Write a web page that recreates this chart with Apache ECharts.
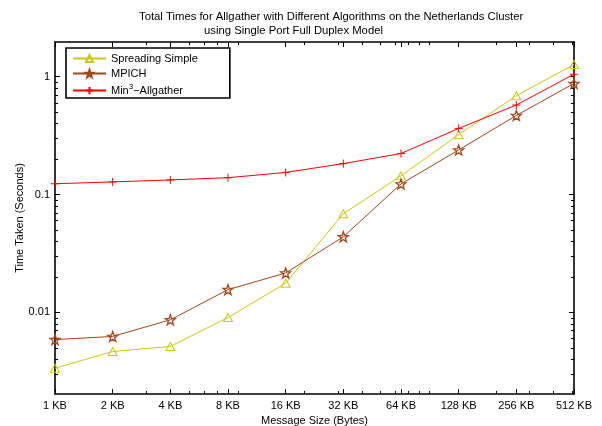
<!DOCTYPE html>
<html>
<head>
<meta charset="utf-8">
<script src="https://cdn.jsdelivr.net/npm/echarts@6/dist/echarts.min.js"></script>
<style>
html,body{margin:0;padding:0;background:#fff;}
#chart{width:602px;height:426px;}
</style>
</head>
<body>
<div id="chart"></div>
<script>
// ---- data ----
var sizesKB = [1, 2, 4, 8, 16, 32, 64, 128, 256, 512];
var sizeLabels = ['1 KB', '2 KB', '4 KB', '8 KB', '16 KB', '32 KB', '64 KB', '128 KB', '256 KB', '512 KB'];
var spreadingSimple = [0.00336, 0.00466, 0.00514, 0.00905, 0.0177, 0.0687, 0.144, 0.322, 0.69, 1.27];
var mpich = [0.00588, 0.00625, 0.00865, 0.0156, 0.0216, 0.0438, 0.123, 0.239, 0.469, 0.877];
var min3Allgather = [0.1235, 0.128, 0.133, 0.139, 0.154, 0.183, 0.223, 0.364, 0.575, 1.05];
var yTickValues = [0.01, 0.1, 1];
var yTickLabels = ['0.01', '0.1', '1'];
var xMinorTicks = [3, 5, 6, 7, 9, 20, 30, 40, 50, 60, 70, 80, 90, 200, 300, 400, 500];
var yMinorTicks = [0.003, 0.004, 0.005, 0.006, 0.007, 0.008, 0.009,
                   0.02, 0.03, 0.04, 0.05, 0.06, 0.07, 0.08, 0.09,
                   0.2, 0.3, 0.4, 0.5, 0.6, 0.7, 0.8, 0.9];
var yMin = 0.00203, yMax = 1.97;

function pairs(vals) { return sizesKB.map(function (s, i) { return [s, vals[i]]; }); }

// pentagram symbol shape
function starPath() {
  var pts = [];
  for (var i = 0; i < 10; i++) {
    var r = (i % 2 === 0) ? 10 : 4;
    var a = -Math.PI / 2 + i * Math.PI / 5;
    pts.push((10 + r * Math.cos(a)).toFixed(2) + ',' + (10 + r * Math.sin(a)).toFixed(2));
  }
  return 'path://M' + pts.join('L') + 'Z';
}

var FONT = '"Liberation Sans", Arial, Helvetica, sans-serif';
var chart = echarts.init(document.getElementById('chart'), null, {renderer: 'canvas'});

function xAx(pos, major, showLabel) {
  return {
    type: 'log', logBase: 2, min: 1, max: 512, position: pos,
    axisLine: {show: major, lineStyle: {color: '#000', width: 1.6}},
    axisTick: {show: true, inside: true, length: major ? 5 : 3,
      customValues: major ? sizesKB : xMinorTicks, lineStyle: {color: '#000', width: 1}},
    axisLabel: {show: showLabel, customValues: sizesKB, margin: 6,
      formatter: function (v) { var i = sizesKB.indexOf(Math.round(v)); return i >= 0 ? sizeLabels[i] : ''; },
      color: '#000', fontSize: 11, fontFamily: FONT},
    splitLine: {show: false}, minorTick: {show: false},
    name: showLabel ? 'Message Size (Bytes)' : '', nameLocation: 'middle', nameGap: 21,
    nameMoveOverlap: false,
    nameTextStyle: {color: '#000', fontSize: 11, fontFamily: FONT}
  };
}
function yAx(pos, major, showLabel) {
  return {
    type: 'log', logBase: 10, min: yMin, max: yMax, position: pos,
    axisLine: {show: major, lineStyle: {color: '#000', width: 1.6}},
    axisTick: {show: true, inside: true, length: major ? 5 : 3,
      customValues: major ? yTickValues : yMinorTicks, lineStyle: {color: '#000', width: 1}},
    axisLabel: {show: showLabel, customValues: yTickValues, margin: 5,
      formatter: function (v) {
        for (var i = 0; i < yTickValues.length; i++) if (Math.abs(v - yTickValues[i]) < 1e-9) return yTickLabels[i];
        return '';
      },
      color: '#000', fontSize: 11, fontFamily: FONT},
    splitLine: {show: false}, minorTick: {show: false},
    name: showLabel ? 'Time Taken (Seconds)' : '', nameLocation: 'middle', nameGap: 30,
    nameMoveOverlap: false,
    nameTextStyle: {color: '#000', fontSize: 11, fontFamily: FONT}
  };
}

var option = {
  backgroundColor: '#fff',
  animation: false,
  title: [
    {text: 'Total Times for Allgather with Different Algorithms on the Netherlands Cluster',
     left: 139, top: 11, padding: 0,
     textStyle: {fontSize: 11.3, fontWeight: 'normal', color: '#000', fontFamily: FONT}},
    {text: 'using Single Port Full Duplex Model',
     left: 204, top: 25, padding: 0,
     textStyle: {fontSize: 11.3, fontWeight: 'normal', color: '#000', fontFamily: FONT}}
  ],
  grid: {left: 55, right: 28, top: 42, bottom: 32, show: false, outerBoundsMode: 'none', containLabel: false},
  legend: {
    orient: 'vertical', left: 66, top: 48,
    padding: [5, 32, 2, 6], itemGap: 4, itemWidth: 33, itemHeight: 9,
    borderColor: '#000', borderWidth: 1.6, backgroundColor: '#fff',
    textStyle: {fontSize: 11, color: '#000', fontFamily: FONT,
      rich: {n: {fontSize: 11, fontFamily: FONT, color: '#000'},
             s: {fontSize: 8, fontFamily: FONT, color: '#000', padding: [0, 0, 7, 0]}}},
    formatter: function (name) {
      if (name === 'Min3-Allgather') return '{n|Min}{s|3}{n|\u2212Allgather}';
      return name;
    },
    data: ['Spreading Simple', 'MPICH', 'Min3-Allgather']
  },
  xAxis: [xAx('bottom', true, true), xAx('bottom', false, false), xAx('top', true, false), xAx('top', false, false)],
  yAxis: [yAx('left', true, true), yAx('left', false, false), yAx('right', true, false), yAx('right', false, false)],
  series: [
    {name: 'Spreading Simple', type: 'line', xAxisIndex: 0, yAxisIndex: 0,
     data: pairs(spreadingSimple), symbol: 'triangle', symbolSize: [9, 8],
     lineStyle: {color: '#c9c91c', width: 1},
     itemStyle: {color: 'rgba(255,255,255,0)', borderColor: '#c9c91c', borderWidth: 1}},
    {name: 'MPICH', type: 'line', xAxisIndex: 0, yAxisIndex: 0,
     data: pairs(mpich), symbol: starPath(), symbolSize: 10,
     lineStyle: {color: '#a5461e', width: 1},
     itemStyle: {color: 'rgba(255,255,255,0)', borderColor: '#a5461e', borderWidth: 1.3}},
    {name: 'Min3-Allgather', type: 'line', xAxisIndex: 0, yAxisIndex: 0,
     data: pairs(min3Allgather), symbol: 'path://M0,5L10,5M5,0L5,10', symbolSize: 8,
     lineStyle: {color: '#ff0000', width: 1},
     itemStyle: {color: 'rgba(255,255,255,0)', borderColor: '#ff0000', borderWidth: 1}}
  ]
};
chart.setOption(option);
</script>
</body>
</html>
